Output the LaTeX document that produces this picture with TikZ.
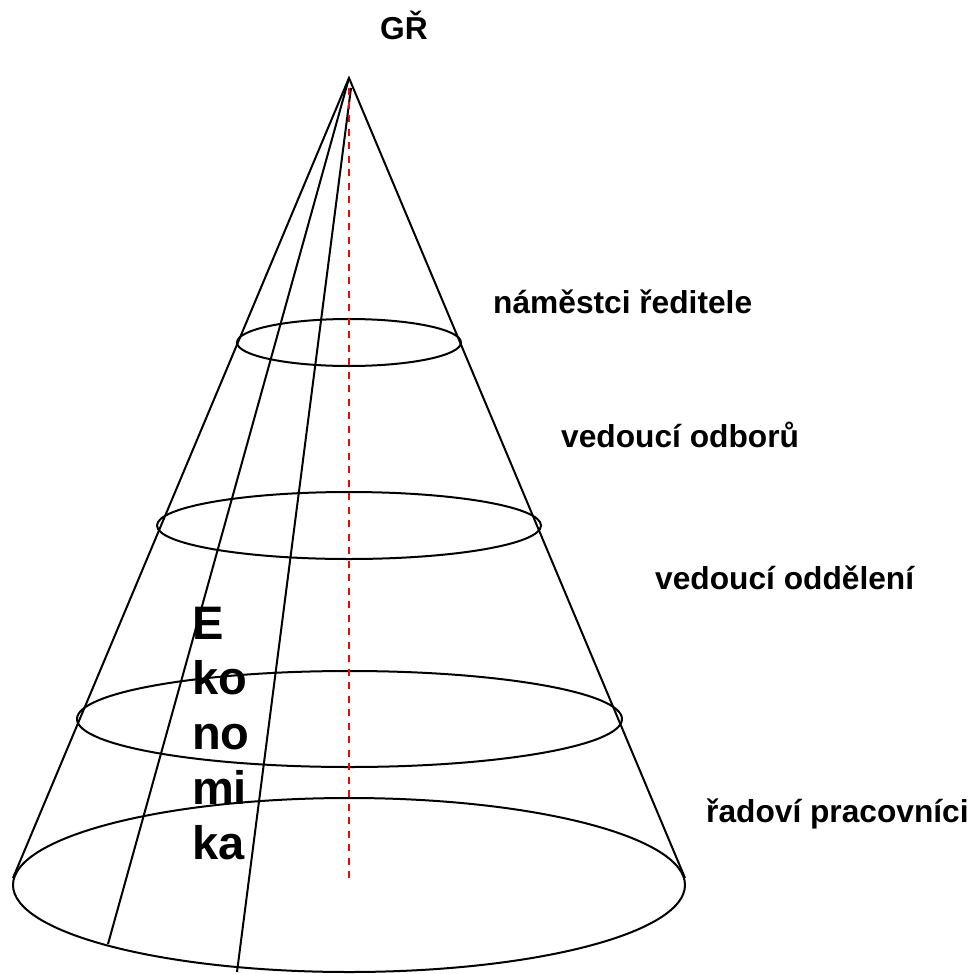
\documentclass[tikz,border=0pt]{standalone}
\usepackage{fontspec}
\setmainfont{Liberation Sans}
\begin{document}
\begin{tikzpicture}[x=1pt,y=-1pt,
  coneline/.style={draw=black,line width=2pt},
  ring/.style={draw=black,line width=2pt},
  axisline/.style={draw=red,line width=2pt,dash pattern=on 7pt off 6.5pt},
  lvl/.style={inner sep=0pt,anchor=base west,font=\fontsize{31.7}{38}\selectfont\bfseries},
  eko/.style={inner sep=0pt,anchor=north west,align=left,font=\fontsize{47}{55}\selectfont\bfseries}]
\useasboundingbox (0,0) rectangle (971,974);
% coordinates
\coordinate (apex) at (349,78);
\coordinate (apex2) at (351,88);
\coordinate (axtop) at (349,88);
\coordinate (axbot) at (349,879);
\coordinate (bl) at (13,878);
\coordinate (br) at (685,878);
\coordinate (i1) at (108,944);
\coordinate (i2) at (237,972);
\coordinate (c1) at (349,342.5);
\coordinate (c2) at (349,525.5);
\coordinate (c3) at (349.5,719);
\coordinate (c4) at (349,885);
% rings
\draw[ring] (c1) ellipse [x radius=112pt, y radius=23.5pt];
\draw[ring] (c2) ellipse [x radius=192pt, y radius=33.5pt];
\draw[ring] (c3) ellipse [x radius=272.5pt, y radius=48pt];
\draw[ring] (c4) ellipse [x radius=336pt, y radius=87pt];
% cone lines
\draw[coneline] (bl) -- (apex) -- (br);
\draw[coneline] (apex) -- (i1);
\draw[coneline] (apex2) -- (i2);
\draw[axisline] (axtop) -- (axbot);
% labels
\node[lvl] (gr) at (380,40) {GŘ};
\node[lvl] (nam) at (493,313) {náměstci ředitele};
\node[lvl] (odb) at (561,447) {vedoucí odborů};
\node[lvl] (odd) at (655,589) {vedoucí oddělení};
\node[lvl] (rad) at (706,822) {řadoví pracovníci};
\node[eko] (ek) at (192,607) {E\\ko\\no\\mi\\ka};
\end{tikzpicture}
\end{document}
